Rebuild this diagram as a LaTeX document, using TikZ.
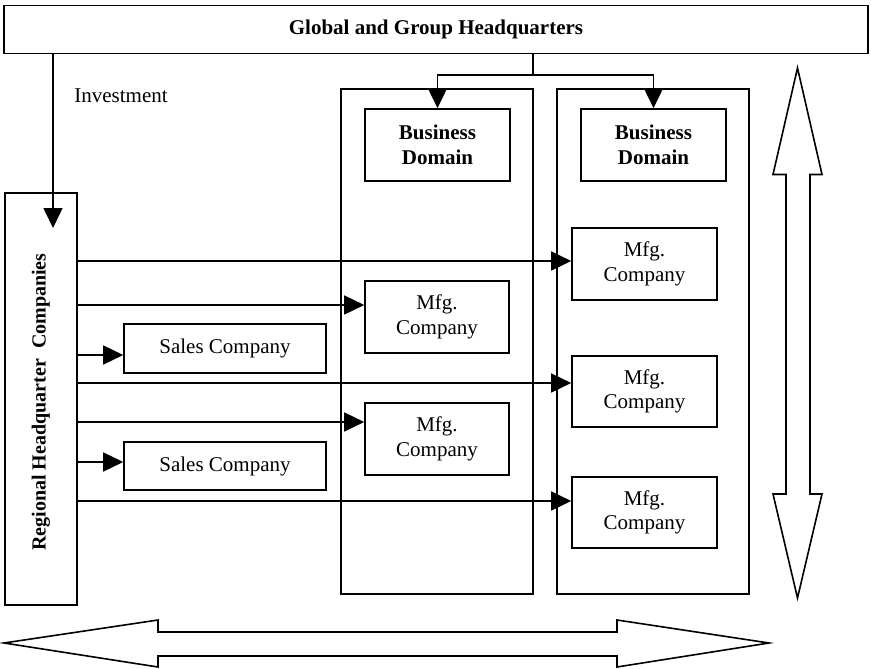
\documentclass[tikz,border=0pt]{standalone}
\usepackage{fontspec}
\setmainfont{Liberation Serif}
\usetikzlibrary{arrows.meta}
\begin{document}
\begin{tikzpicture}[x=1pt, y=-1pt,
  every node/.style={font=\fontsize{21}{24.5}\selectfont},
  box/.style={draw, line width=1.6pt, inner sep=0pt, align=center},
  arr/.style={line width=1.6pt, -{Triangle[length=20pt, width=19pt]}},
  link/.style={line width=1.6pt},
  bigarrow/.style={draw, line width=1.6pt, line join=miter, fill=white}]
\useasboundingbox (0,0) rectangle (871,669);

% headquarters bar
\node[box, minimum width=864pt, minimum height=48pt] (hq) at (436,29.5)
  {\bfseries Global and Group Headquarters};

% business domain columns
\node[box, minimum width=192pt, minimum height=505pt] (col1) at (437,341.5) {};
\node[box, minimum width=192pt, minimum height=505pt] (col2) at (653,341.5) {};
\node[box, minimum width=145pt, minimum height=72pt] (bd1) at (437.5,145)
  {\bfseries Business\\\bfseries Domain};
\node[box, minimum width=145pt, minimum height=72pt] (bd2) at (653.5,145)
  {\bfseries Business\\\bfseries Domain};

% manufacturing companies
\node[box, minimum width=145pt, minimum height=72pt] (mr1) at (644.5,264) {Mfg.\\Company};
\node[box, minimum width=145pt, minimum height=71pt] (mr2) at (644.5,391.5) {Mfg.\\Company};
\node[box, minimum width=145pt, minimum height=71pt] (mr3) at (644.5,512.5) {Mfg.\\Company};
\node[box, minimum width=144pt, minimum height=72pt] (ml1) at (437,317) {Mfg.\\Company};
\node[box, minimum width=144pt, minimum height=72pt] (ml2) at (437,439) {Mfg.\\Company};

% sales companies
\node[box, minimum width=202pt, minimum height=49pt] (s1) at (225,348.5) {Sales Company};
\node[box, minimum width=202pt, minimum height=48pt] (s2) at (225,466) {Sales Company};

% regional headquarters
\node[box, minimum width=72pt, minimum height=412pt] (reg) at (41,399) {};
\node[rotate=90, font=\fontsize{20}{24}\selectfont\bfseries] (reglbl) at (41,402)
  {Regional Headquarter\ \ Companies};

% investment flow
\node[anchor=center] (inv) at (121,96) {Investment};
\coordinate (invtip) at (53,228);
\draw[arr] (hq.south -| invtip) -- (invtip);

% headquarters to business domains
\coordinate (split) at (533,75);
\draw[link] (hq.south -| split) -- (split);
\draw[arr] (split) -| (bd1.north);
\draw[arr] (split) -| (bd2.north);

% regional headquarters to companies
\draw[arr] (reg.east |- {0,261}) -- (mr1.west |- {0,261});
\draw[arr] (reg.east |- {0,305}) -- (ml1.west |- {0,305});
\draw[arr] (reg.east |- {0,355}) -- (s1.west |- {0,355});
\draw[arr] (reg.east |- {0,383}) -- (mr2.west |- {0,383});
\draw[arr] (reg.east |- {0,422}) -- (ml2.west |- {0,422});
\draw[arr] (reg.east |- {0,462}) -- (s2.west |- {0,462});
\draw[arr] (reg.east |- {0,501}) -- (mr3.west |- {0,501});

% vertical double arrow
\draw[bigarrow] (797.5,68) -- (822,174.5) -- (810,174.5) -- (810,494) -- (822,494)
  -- (797.5,598) -- (773,494) -- (786,494) -- (786,174.5) -- (773,174.5) -- cycle;

% horizontal double arrow
\draw[bigarrow] (4,643) -- (158,620) -- (158,632) -- (617,632) -- (617,620)
  -- (769,643) -- (617,667) -- (617,656) -- (158,656) -- (158,667) -- cycle;
\end{tikzpicture}
\end{document}
